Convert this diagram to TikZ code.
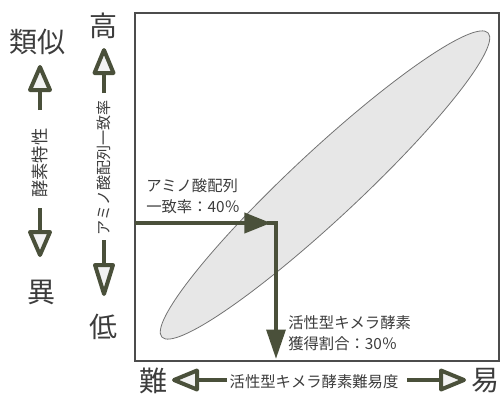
\documentclass[tikz,border=0pt]{standalone}
\usepackage{fontspec}
\newfontfamily\jp{Noto Sans CJK JP}
\usetikzlibrary{arrows.meta,calc}
\definecolor{arrowc}{RGB}{74,80,58}
\definecolor{txtc}{RGB}{60,60,60}
\begin{document}
\begin{tikzpicture}[x=0.75pt,y=-0.75pt,
  txt/.style={text=txtc, inner sep=0pt},
  big/.style={txt, font=\jp\fontsize{21}{21}\selectfont},
  small/.style={txt, font=\jp\fontsize{11.5}{16}\selectfont, align=left},
  stem/.style={draw=arrowc, line width=3pt},
  hollowhead/.style={draw=arrowc, fill=gray!10, line width=3pt, line join=round},
  solidarr/.style={draw=arrowc, line width=3pt, line join=miter},
  frame/.style={draw=black!70, line width=0.9pt},
  blob/.style={draw=black!55, line width=0.6pt, fill=gray!19}
]
\useasboundingbox (0,0) rectangle (502,396);

% frame and ellipse
\draw[frame] (135,13) rectangle (499,361);
\draw[blob, rotate around={43:(325,185)}] (325,185) ellipse [x radius=223, y radius=34];

% big labels
\node[big] (sim)  at (37,42)  {類似};
\node[big] (diff) at (41,292) {異};
\node[big] (hi)   at (103,26) {高};
\node[big] (lo)   at (103,327){低};
\node[big] (hard) at (153,381){難};
\node[big] (easy) at (485,381){易};

% axis texts
\node[txt, font=\jp\fontsize{13}{13}\selectfont, rotate=90] (enz) at (40,163) {酵素特性};
\node[txt, font=\jp\fontsize{11.3}{11}\selectfont, rotate=90] (amino) at (104,168) {アミノ酸配列一致率};
\node[txt, font=\jp\fontsize{11.5}{11}\selectfont] (diffi) at (314,382) {活性型キメラ酵素難易度};

% annotations
\node[small, anchor=west] (a40) at (146,196) {アミノ酸配列\\一致率：40％};
\node[small, anchor=west] (a30) at (288,333) {活性型キメラ酵素\\獲得割合：30％};

% hollow arrows: stems
\coordinate (s1) at (40,110); \coordinate (b1) at (40,90);  \coordinate (t1) at (40,67);
\coordinate (s2) at (40,208); \coordinate (b2) at (40,232); \coordinate (t2) at (40,255);
\coordinate (s3) at (104,93); \coordinate (b3) at (104,73); \coordinate (t3) at (104,50);
\coordinate (s4) at (104,240);\coordinate (b4) at (104,265);\coordinate (t4) at (104,294);
\coordinate (s5) at (227,380);\coordinate (b5) at (197,380);\coordinate (t5) at (174,380);
\coordinate (s6) at (407,380);\coordinate (b6) at (441,380);\coordinate (t6) at (464,380);
\draw[stem] (s1) -- (b1);
\draw[stem] (s2) -- (b2);
\draw[stem] (s3) -- (b3);
\draw[stem] (s4) -- (b4);
\draw[stem] (s5) -- (b5);
\draw[stem] (s6) -- (b6);
% hollow heads
\filldraw[hollowhead] (t1) -- ($(b1)+(-10,0)$) -- ($(b1)+(10,0)$) -- cycle;
\filldraw[hollowhead] (t2) -- ($(b2)+(-10,0)$) -- ($(b2)+(10,0)$) -- cycle;
\filldraw[hollowhead] (t3) -- ($(b3)+(-9.5,0)$) -- ($(b3)+(9.5,0)$) -- cycle;
\filldraw[hollowhead] (t4) -- ($(b4)+(-9,0)$) -- ($(b4)+(9,0)$) -- cycle;
\filldraw[hollowhead] (t5) -- ($(b5)+(0,-9.5)$) -- ($(b5)+(0,9.5)$) -- cycle;
\filldraw[hollowhead] (t6) -- ($(b6)+(0,-9.5)$) -- ($(b6)+(0,9.5)$) -- cycle;

% solid arrows
\coordinate (h0) at (135,223);
\coordinate (h1) at (271,223);
\coordinate (e0) at (267,223);
\coordinate (v1) at (276,359);
\draw[solidarr, -{Triangle[length=20pt,width=15pt]}] (h0) -- (h1);
\draw[solidarr, -{Triangle[length=22pt,width=14pt]}] (e0) -| (v1);
\end{tikzpicture}
\end{document}
